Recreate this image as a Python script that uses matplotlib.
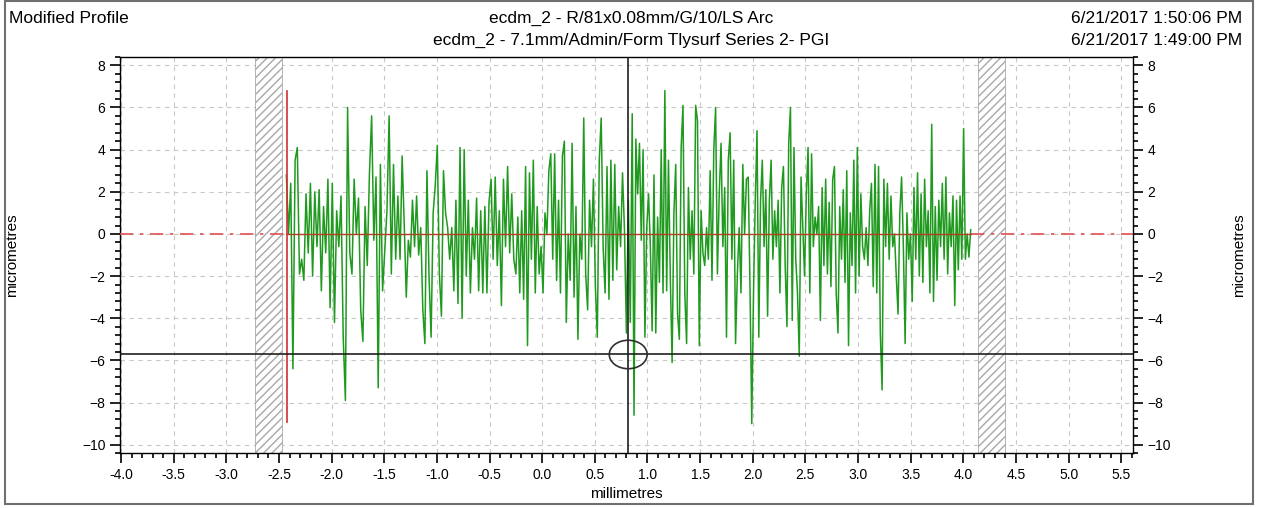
import numpy as np
import matplotlib.pyplot as plt
from matplotlib.patches import Rectangle, Ellipse
from matplotlib.ticker import MultipleLocator, FormatStrFormatter

plt.rcParams['font.family'] = ['Liberation Sans', 'DejaVu Sans']

# profile heights (micrometres)
seg_edges = [-2.43, -1.35, -0.25, 0.855, 1.957, 3.06, 4.07]
seg1 = [2.8, 0.0, 2.4, -6.4, 3.5, 4.1, -1.9, -1.2, -2.2, 1.9, -0.9, 2.4, -2.0, 2.0, -0.6,
        2.1, -2.7, 1.3, -0.9, 2.6, -3.5, 2.4, -4.2, 1.1, -0.6, 1.8, -4.9, -7.9, 6.0, -0.9,
        -1.9, 2.6, 0.0, 1.7, -3.6, -5.1, 1.3, -1.5, 2.9, 5.6, -0.3, 2.7, -7.3, 3.3, -2.7,
        -0.8, 1.1, 5.6, -1.9, 3.3, -1.2, 1.8]
seg2 = [-1.2, 3.7, 0.5, -3.0, -0.3, -1.1, 1.6, -0.6, 1.8, -1.0, 0.3, -3.6, -5.2, 3.0, -2.0,
        -4.9, 1.0, 2.3, 4.2, -1.9, -3.9, 3.0, 1.0, 0.3, -1.2, 0.3, -2.7, 1.6, -3.3, 4.1,
        -4.0, 4.0, -2.0, 1.6, -2.8, 0.3, -1.2, 1.7, -2.7, 1.1, -2.8, 1.3, -2.8, 1.5, 2.6,
        -1.2, 2.7, -1.5, 1.1, -3.4, 2.6, -0.6, 3.2, -0.9, 1.9, -1.2]
seg3 = [-1.9, 0.8, -2.8, 1.1, -3.1, 3.2, -5.3, 2.9, -1.2, 3.5, -2.8, 1.3, -1.9, -0.6, -2.8,
        1.0, 0.0, 3.0, 3.8, -1.2, 3.8, -2.2, 1.6, -2.8, 3.7, 4.4, -4.2, 0.0, -2.2, 4.3,
        -3.0, 1.3, -5.0, 0.0, -1.2, 5.5, -1.9, -3.6, 1.6, -0.6, 2.6, -2.5, -4.9, 3.5, 5.5,
        -0.6, -2.8, 3.2, -3.1, 3.5, -2.2, 3.3, -1.7, 1.3, -0.6, 2.9, 0.2, -4.7, 1.6, -4.2]
seg4 = [5.7, -8.6, 4.5, 1.9, 4.3, -0.3, 4.0, -4.9, 0.3, 1.9, -0.6, -4.6, 2.8, -4.7, 0.8,
        -2.3, 4.0, -2.8, 6.8, -2.7, 3.5, -2.0, -6.1, 1.0, 3.3, -3.8, -5.0, 4.1, 6.1, -2.8,
        -5.2, 2.2, -1.2, 1.1, -1.9, 6.1, 5.4, -5.3, 1.1, -0.9, -1.5, 0.3, -1.2, 3.0, -2.2,
        4.0, 6.0, -1.9, 1.9, 4.3, -0.6, 2.2, -4.9, 3.5, 4.8, -1.2, 3.5, -5.2, -1.9, 0.3,
        -2.8, 3.3, 0.0, 2.6]
seg5 = [2.7, -2.5, -9.0, -2.8, 1.6, 4.9, -4.9, 1.6, 3.5, -0.6, 2.1, -3.9, 1.6, 3.5, -1.2,
        1.1, -0.6, 1.6, -2.8, 2.2, 3.2, -1.5, -4.4, 4.3, 6.0, -4.1, 4.1, -1.2, -2.8, -5.8,
        2.7, 0.3, -2.0, 1.9, 4.1, -2.8, 3.8, -0.6, 0.8, 0.0, 1.3, -4.1, 2.2, -1.5, 2.6,
        -1.9, 1.5, -2.5, 2.6, 3.2, -2.8, -4.7, 1.3, -1.2, 2.1, -2.3, 3.0, -5.3, 1.0, -1.5,
        3.5, -2.8, 4.1, -2.0, 1.9, -0.6]
seg6 = [-1.2, 0.3, -1.5, 1.1, 2.4, -2.5, 3.3, -2.8, 3.2, -4.7, -7.4, 2.6, -0.6, 2.4, -1.2,
        1.8, -0.6, 0.0, -2.0, -3.8, 1.0, 2.7, -0.6, -5.2, 1.0, -1.2, 0.0, -3.2, 2.2, -1.2,
        2.9, -2.0, 1.9, -2.3, 2.6, -0.6, 1.1, -2.8, 5.2, -3.2, 1.3, -2.2, 1.6, -0.6, 2.4,
        -1.2, 2.7, -1.9, 1.0, -0.6, 1.8, -3.4, 1.6, -1.7, 1.8, -1.2, 5.0, -1.2, 0.0, -1.1, 0.2]
segments = [seg1, seg2, seg3, seg4, seg5, seg6]

# evaluation limits, exclusion zones and cursor
eval_start, eval_end = -2.42, 4.07
exclude_left = (-2.73, -2.47)
exclude_right = (4.14, 4.40)
cursor_x, cursor_y = 0.817, -5.72
start_marker = (6.8, -8.9)

xs, ys = [], []
for i, seg in enumerate(segments):
    last = i == len(segments) - 1
    xs.append(np.linspace(seg_edges[i], seg_edges[i + 1], len(seg), endpoint=last))
    ys.append(np.array(seg))
x = np.concatenate(xs)
y = np.concatenate(ys)

fig = plt.figure(figsize=(12.7, 5.08), dpi=100)
ax = fig.add_axes([0.0945, 0.108, 0.7975, 0.78])
ax.set_xlim(-4.01, 5.61)
ax.set_ylim(-10.4, 8.4)

ax.grid(True, which='major', color='#c8c8c8', linestyle=(0, (4, 4)), linewidth=0.8)
ax.set_axisbelow(True)

# excluded zones
for lo, hi in (exclude_left, exclude_right):
    ax.add_patch(Rectangle((lo, -10.4), hi - lo, 18.8, facecolor='white',
                           edgecolor='#a8a8a8', hatch='////', linewidth=0.6, zorder=2))

# reference line
ax.plot([-4.01, eval_start], [0, 0], color='#e05050', lw=1.2, ls=(0, (8, 4, 2, 4)), zorder=3)
ax.plot([eval_end, 5.61], [0, 0], color='#e05050', lw=1.2, ls=(0, (8, 4, 2, 4)), zorder=3)

ax.plot(x, y, color='#1f9a1f', lw=1.1, zorder=4)
ax.plot([eval_start, eval_end], [0, 0], color='#b04020', lw=1.0, zorder=5)
ax.plot([eval_start, eval_start], start_marker, color='#d03030', lw=1.2, zorder=5)

# cursors
ax.axvline(cursor_x, color='#202020', lw=1.2, zorder=6)
ax.axhline(cursor_y, color='#202020', lw=1.2, zorder=6)
ax.add_patch(Ellipse((cursor_x, cursor_y), 0.36, 1.35, fill=False,
                     edgecolor='#303030', lw=1.2, zorder=7))

ax.xaxis.set_major_locator(MultipleLocator(0.5))
ax.xaxis.set_minor_locator(MultipleLocator(0.1))
ax.xaxis.set_major_formatter(FormatStrFormatter('%.1f'))
ax.yaxis.set_major_locator(MultipleLocator(2))
ax.yaxis.set_minor_locator(MultipleLocator(0.4))
ax.tick_params(which='both', direction='out', labelsize=10, right=True, labelright=True,
               top=False, width=1.2)
ax.tick_params(which='major', length=7)
ax.tick_params(which='minor', length=3.5)
for sp in ax.spines.values():
    sp.set_linewidth(1.0)

ax.set_xlabel('millimetres', fontsize=11, labelpad=4)
ax.set_ylabel('micrometres', fontsize=11)
ax.yaxis.set_label_coords(-0.1, 0.5)
ax.text(1.105, 0.5, 'micrometres', transform=ax.transAxes, rotation=90,
        ha='center', va='center', fontsize=11)

fig.text(0.007, 0.963, 'Modified Profile', fontsize=12.5, ha='left', va='center')
fig.text(0.497, 0.963, 'ecdm_2 - R/81x0.08mm/G/10/LS Arc', fontsize=12.5,
         ha='center', va='center')
fig.text(0.497, 0.92, 'ecdm_2 - 7.1mm/Admin/Form Tlysurf Series 2- PGI', fontsize=12.5,
         ha='center', va='center')
fig.text(0.978, 0.963, '6/21/2017 1:50:06 PM', fontsize=12.5, ha='right', va='center')
fig.text(0.978, 0.92, '6/21/2017 1:49:00 PM', fontsize=12.5, ha='right', va='center')

fig.add_artist(Rectangle((0.004, 0.008), 0.983, 0.99, transform=fig.transFigure,
                         fill=False, edgecolor='#707070', lw=1.5))

fig.savefig('out.png', dpi=100)
